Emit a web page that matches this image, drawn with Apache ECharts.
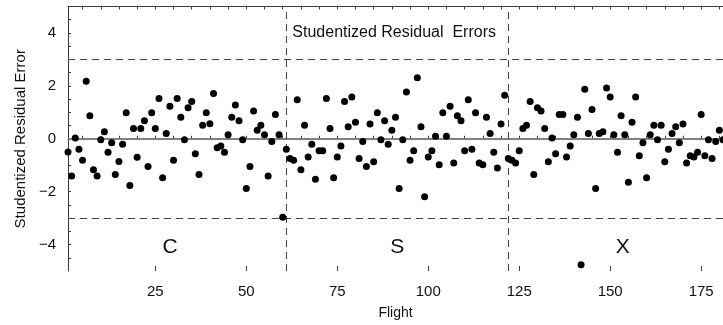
<!DOCTYPE html>
<html><head><meta charset="utf-8">
<script src="https://cdn.jsdelivr.net/npm/echarts@6/dist/echarts.min.js"></script>
<style>html,body{margin:0;padding:0;background:#fff}#c{width:723px;height:325px}</style>
</head><body><div id="c"></div>
<script>
// Studentized residuals, one per flight (flights 1..181)
const residualsC = [-0.50,-1.41,0.03,-0.40,-0.81,2.17,0.87,-1.17,-1.41,-0.04,
  0.26,-0.51,-0.15,-1.35,-0.86,-0.21,0.98,-1.77,0.39,-0.70,
  0.39,0.68,-1.05,0.98,0.39,1.52,-1.47,0.20,1.23,-0.81,
  1.52,0.81,-0.04,1.17,1.41,-0.57,-1.35,0.51,0.98,0.57,
  1.71,-0.34,-0.27,-0.51,0.15,0.81,1.28,0.68,-0.04,-1.88,
  -1.05,1.05,0.32,0.51,0.15,-1.41,-0.10,0.92,0.15,-2.97,-0.40];
const residualsS = [-0.75,-0.81,1.47,-1.17,0.51,-0.69,-0.21,-1.53,-0.45,-0.45,
  1.52,0.39,-1.47,-0.69,-0.27,1.41,0.45,1.58,0.62,-0.75,
  -0.10,-1.05,0.56,-0.87,0.98,-0.04,0.68,-0.21,0.32,0.81,
  -1.88,-0.04,1.77,-0.81,-0.45,2.31,0.45,-2.19,-0.69,-0.45,
  0.09,-0.98,0.98,0.09,1.23,-0.92,0.87,0.68,-0.45,1.47,
  -0.40,0.98,-0.92,-0.98,0.81,0.20,-0.51,-1.11,0.56,1.64,-0.75];
const residualsX = [-0.81,-0.92,-0.45,0.39,0.51,1.41,-1.35,1.17,1.05,0.39,
  -0.87,0.03,-0.57,0.92,0.92,-0.69,-0.27,0.15,0.81,-4.76,
  1.87,0.20,1.11,-1.88,0.20,0.26,1.92,1.58,0.15,-0.51,
  0.87,0.15,-1.64,0.62,1.58,-0.64,-0.15,-1.47,0.15,0.51,
  -0.04,0.51,-0.87,-0.40,0.20,0.45,-0.15,0.56,-0.92,-0.64,
  -0.69,-0.51,0.92,-0.64,-0.04,-0.75,-0.10,0.32,-0.04];
const firstFlight = 1;
const regionBounds = [61, 122];
const regionLabels = ['C', 'S', 'X'];
const limitLines = [3, -3];
const xTickLabels = [25, 50, 75, 100, 125, 150, 175];
const xMinorTicks = [5,10,15,20,25,30,35,40,45,50,55,60,65,70,75,80,85,90,95,100,105,110,115,120,125,130,135,140,145,150,155,160,165,170,175,180];
const yTickLabels = [-4, -2, 0, 2, 4];
const yMinorTicks = [-4.5,-4,-3.5,-3,-2.5,-2,-1.5,-1,-0.5,0,0.5,1,1.5,2,2.5,3,3.5,4,4.5];
const titleText = 'Studentized Residual  Errors';

const residuals = residualsC.concat(residualsS, residualsX);
const points = residuals.map((v, i) => [firstFlight + i, v]);

const FONT = '"Liberation Sans", Arial, sans-serif';
const AX = '#3a3a3a';
const chart = echarts.init(document.getElementById('c'), null, {renderer: 'canvas'});
const baseX = {type: 'value', min: 1, max: 181, splitLine: {show: false}};
chart.setOption({
  animation: false,
  backgroundColor: '#fff',
  textStyle: {fontFamily: FONT},
  grid: {left: 68, right: 0, top: 6.5, bottom: 52},
  xAxis: [
    Object.assign({}, baseX, {
      position: 'bottom',
      axisLine: {show: true, lineStyle: {color: AX, width: 1}},
      axisTick: {show: true, inside: true, length: 3, customValues: xMinorTicks, lineStyle: {color: AX}},
      axisLabel: {customValues: xTickLabels, fontSize: 15, color: '#111', margin: 13, fontFamily: FONT},
      name: 'Flight', nameLocation: 'middle', nameGap: 35,
      nameTextStyle: {fontSize: 14, color: '#111', fontFamily: FONT}
    }),
    Object.assign({}, baseX, {
      position: 'bottom',
      axisLine: {show: false},
      axisTick: {show: true, inside: true, length: 5, customValues: xTickLabels, lineStyle: {color: AX}},
      axisLabel: {show: false}
    }),
    Object.assign({}, baseX, {
      position: 'top',
      axisLine: {show: true, lineStyle: {color: AX, width: 1}},
      axisTick: {show: true, inside: true, length: 3, customValues: xMinorTicks, lineStyle: {color: AX}},
      axisLabel: {show: false}
    })
  ],
  yAxis: [{
    type: 'value', min: -5, max: 5, position: 'left',
    splitLine: {show: false},
    axisLine: {show: true, lineStyle: {color: AX, width: 1}},
    axisTick: {show: true, inside: true, length: 3, customValues: yMinorTicks, lineStyle: {color: AX}},
    axisLabel: {customValues: yTickLabels, fontSize: 15, color: '#111', margin: 12, fontFamily: FONT,
      formatter: v => String(v).replace('-', '\u2212')},
    name: 'Studentized Residual Error', nameLocation: 'middle', nameGap: 40, nameRotate: 90,
    nameTextStyle: {fontSize: 15, color: '#111', fontFamily: FONT}
  }],
  series: [{
    type: 'scatter',
    xAxisIndex: 0,
    data: points,
    symbol: 'circle',
    symbolSize: 7,
    clip: false,
    itemStyle: {color: '#000', opacity: 1},
    z: 5,
    markLine: {
      silent: true, symbol: 'none', label: {show: false}, animation: false,
      data: [
        {yAxis: 0, lineStyle: {type: 'solid', color: '#808080', width: 2}},
        ...limitLines.map(v => ({yAxis: v, lineStyle: {type: [7, 5], color: '#444', width: 1}})),
        ...regionBounds.map(v => ({xAxis: v, lineStyle: {type: [7, 5], color: '#444', width: 1}}))
      ]
    }
  }]
});

function place() {
  const g = [];
  const centers = [
    (1 + regionBounds[0]) / 2,
    (regionBounds[0] + regionBounds[1]) / 2,
    (regionBounds[1] + 181) / 2
  ];
  const shift = [-7, 0, 7];
  regionLabels.forEach((t, i) => {
    const p = chart.convertToPixel({xAxisIndex: 0, yAxisIndex: 0}, [centers[i], -4.1]);
    g.push({type: 'text', x: p[0] + shift[i], y: p[1], style: {text: t, fontSize: 21, fontFamily: FONT, fill: '#111', align: 'center', verticalAlign: 'middle'}});
  });
  const tp = chart.convertToPixel({xAxisIndex: 0, yAxisIndex: 0}, [regionBounds[0], 4.0]);
  g.push({type: 'text', x: tp[0] + 6, y: tp[1], style: {text: titleText, fontSize: 16, fontFamily: FONT, fill: '#111', align: 'left', verticalAlign: 'middle'}});
  chart.setOption({graphic: g});
}
place();
</script>
</body></html>
